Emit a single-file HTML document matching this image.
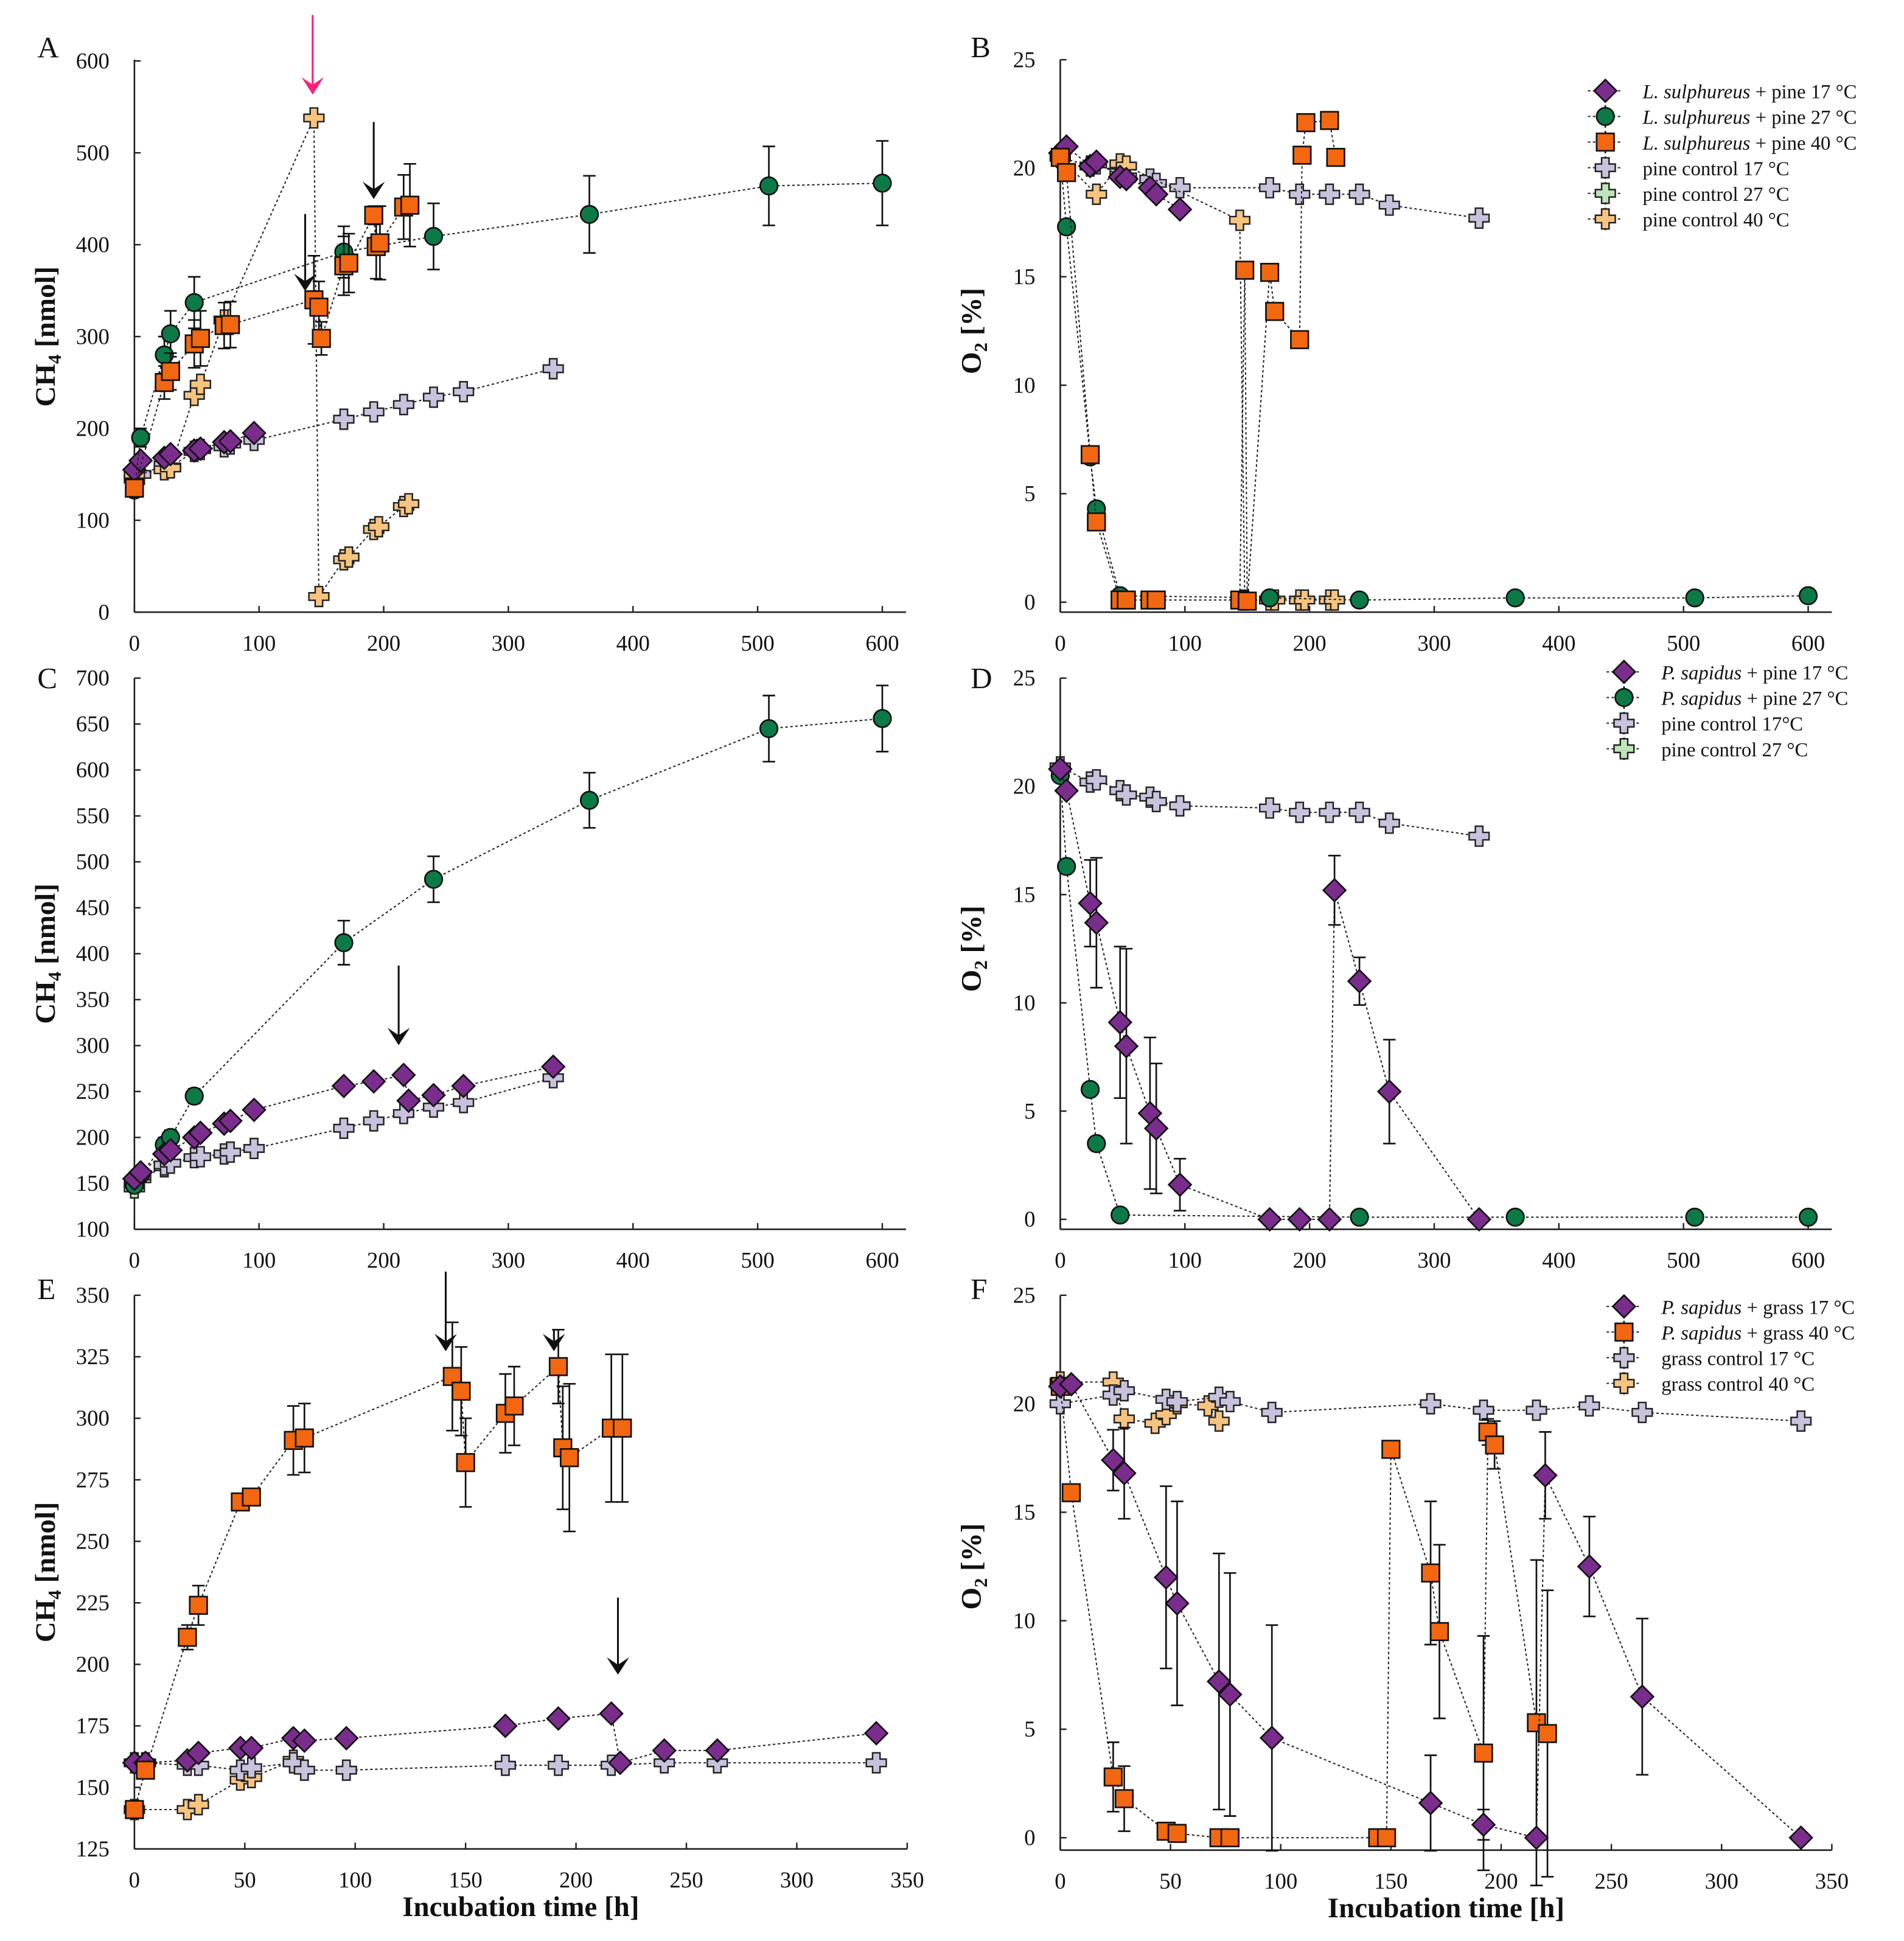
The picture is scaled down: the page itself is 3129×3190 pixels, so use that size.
<!DOCTYPE html>
<html><head><meta charset="utf-8"><style>
html,body{margin:0;padding:0;background:#fff}
svg{display:block}
text{font-family:"Liberation Serif",serif;fill:#111}
</style></head><body>
<svg id="fig" width="3129" height="3190" viewBox="0 0 1530 1560" preserveAspectRatio="none" xmlns="http://www.w3.org/2000/svg"></svg>
<script>
// ---------- DATA ----------
// Panel A (CH4 nmol)
const aPurpleT=[0,5,24,29,48,53,72,77,96];
const aPurpleY=[155,165,168,172,176,178,185,186,195];
const aGreenT=[0,5,24,29,48,168,240,365,509,600];
const aGreenY=[133,190,280,303,337,392,409,433,464,467];
const aGreenE=[0,10,20,25,28,28,36,42,43,46];
const aOrangeT=[0,24,29,48,53,72,77,144,148,150,168,172,192,194,197,216,221];
const aOrangeY=[135,250,262,292,298,312,313,340,332,298,377,380,432,398,402,441,443];
const aOrangeE=[0,18,20,26,30,25,25,48,28,18,32,32,10,35,40,35,45];
const aCtl17T=[0,5,24,29,48,53,72,77,96,168,192,216,240,264,336];
const aCtl17Y=[145,150,160,158,175,177,180,183,187,210,218,226,234,240,265];
const aCtl40T=[0,24,29,48,53,72,144,148,168,172,192,196,216,220];
const aCtl40Y=[150,155,157,236,248,318,538,17,57,60,90,93,115,118];
// Panel B (O2 %)
const bPurpleT=[0,5,24,29,48,53,72,77,96];
const bPurpleY=[20.7,21,20.1,20.3,19.6,19.5,19.1,18.8,18.1];
const bGreenT=[0,5,24,29,48,168,240,365,509,600];
const bGreenY=[20.5,17.3,6.7,4.3,0.3,0.2,0.1,0.2,0.2,0.3];
const bOrangeT=[0,5,24,29,48,53,72,77,144,148,150,168,172,192,194,197,216,221];
const bOrangeY=[20.5,19.8,6.8,3.7,0.1,0.1,0.1,0.1,0.1,15.3,0.05,15.2,13.4,12.1,20.6,22.1,22.2,20.5];
const bCtl17T=[0,24,29,48,53,72,77,96,168,192,216,240,264,336];
const bCtl17Y=[20.5,20.1,20.2,19.8,19.6,19.5,19.3,19.1,19.1,18.8,18.8,18.8,18.3,17.7];
const bCtl40T=[0,29,48,53,144,148,168,172,192,196,216,220];
const bCtl40Y=[20.5,18.8,20.2,20.1,17.6,0.1,0.1,0.1,0.1,0.1,0.1,0.1];
// Panel C
const cPurpleT=[0,5,24,29,48,53,72,77,96,168,192,216,220,240,264,336];
const cPurpleY=[155,162,182,186,200,205,215,218,230,256,261,268,240,246,256,277];
const cGreenT=[0,5,24,29,48,168,240,365,509,600];
const cGreenY=[148,160,192,200,245,412,481,567,645,656];
const cGreenE=[0,8,8,8,8,24,25,30,36,36];
const cCtl17T=[0,5,24,29,48,53,72,77,96,168,192,216,240,264,336];
const cCtl17Y=[150,158,170,172,178,179,182,184,188,210,218,226,233,238,265];
const cCtl27T=[0,5,24];
const cCtl27Y=[145,155,168];
// Panel D
const dPurpleT=[0,5,24,29,48,53,72,77,96,168,192,216,220,240,264,336];
const dPurpleY=[20.8,19.8,14.6,13.7,9.1,8.0,4.9,4.2,1.6,0,0,0,15.2,11,5.9,0];
const dPurpleE=[0,0,2,3,3.5,4.5,3.5,3,1.2,0,0,0,1.6,1.1,2.4,0];
const dGreenT=[0,5,24,29,48,240,365,509,600];
const dGreenY=[20.5,16.3,6.0,3.5,0.2,0.1,0.1,0.1,0.1];
const dCtl17T=[0,24,29,48,53,72,77,96,168,192,216,240,264,336];
const dCtl17Y=[20.9,20.2,20.3,19.8,19.6,19.5,19.3,19.1,19.0,18.8,18.8,18.8,18.3,17.7];
// Panel E
const eOrangeT=[0,5,24,29,48,53,72,77,144,148,150,168,172,192,194,197,216,221];
const eOrangeY=[141,157,211,224,266,268,291,292,317,311,282,302,305,321,288,284,296,296];
const eOrangeE=[0,0,5,8,3,3,14,14,22,18,18,16,16,15,25,30,30,30];
const ePurpleT=[0,5,24,29,48,53,72,77,96,168,192,216,220,240,264,336];
const ePurpleY=[160,160,161,164,166,166,170,169,170,175,178,180,160,165,165,172];
const eCtl17T=[0,5,24,29,48,53,72,77,96,168,192,216,240,264,336];
const eCtl17Y=[160,160,159,159,157,158,160,157,157,159,159,159,160,160,160];
const eCtl40T=[0,24,29,48,53,72];
const eCtl40Y=[141,141,143,153,154,161];
// Panel F
const fPurpleT=[0,5,24,29,48,53,72,77,96,168,192,216,220,240,264,336];
const fPurpleY=[20.8,20.9,17.4,16.8,12,10.8,7.2,6.6,4.6,1.6,0.6,0,16.7,12.5,6.5,0];
const fPurpleE=[0,0,1.4,2.1,4.2,4.7,5.9,5.6,5.2,2.2,0.7,0,2,2.3,3.6,0];
const fOrangeT=[0,5,24,29,48,53,72,77,144,148,150,168,172,192,194,197,216,221];
const fOrangeY=[20.8,15.9,2.8,1.8,0.3,0.2,0,0,0,0,17.9,12.2,9.5,3.9,18.7,18.1,5.3,4.8];
const fOrangeE=[0,0,1.6,1.5,0,0,0,0,0,0,0,3.3,4,5.4,0.6,1.1,7.5,6.6];
const fCtl17T=[0,24,29,48,53,72,77,96,168,192,216,240,264,336];
const fCtl17Y=[20,20.4,20.6,20.2,20.1,20.3,20.1,19.6,20,19.7,19.7,19.9,19.6,19.2];
const fCtl40T=[0,24,29,43,48,53,67,72];
const fCtl40Y=[21,21,19.3,19.1,19.5,20,19.9,19.2];

const xTicks600=[0,100,200,300,400,500,600];
const xTicks350=[0,50,100,150,200,250,300,350];
const yTicksA=[0,100,200,300,400,500,600];
const yTicksC=[100,150,200,250,300,350,400,450,500,550,600,650,700];
const yTicksE=[125,150,175,200,225,250,275,300,325,350];
const yTicksO=[0,5,10,15,20,25];

// ---------- DRAW ----------
const NS="http://www.w3.org/2000/svg";
const svg=document.getElementById('fig');
const COL={purple:'#7a2d8c',green:'#0b7a47',orange:'#f2670f',c17:'#c9c2dc',c27:'#bfe3b8',c40:'#f7c47f'};
function mk(tag,attrs,parent){const e=document.createElementNS(NS,tag);for(const k in attrs)e.setAttribute(k,attrs[k]);(parent||svg).appendChild(e);return e;}

function makeAxes(p){
  const g=mk('g',{});
  
  
  p.sx=v=>p.x0+(v-p.xmin)/(p.xmax-p.xmin)*(p.x1-p.x0);
  p.sy=v=>p.y0-(v-p.ymin)/(p.ymax-p.ymin)*(p.y0-p.y1);
  const ax=mk('g',{},g);
  
  
  mk('line',{x1:p.x0,y1:p.axisY,x2:p.xEnd,y2:p.axisY,stroke:'#222','stroke-width':1.3},ax);
  mk('line',{x1:p.x0,y1:p.axisY,x2:p.x0,y2:p.yTop,stroke:'#222','stroke-width':1.3},ax);
  p.xt.forEach(v=>{const x=p.sx(v);
    mk('line',{x1:x,y1:p.axisY,x2:x,y2:p.axisY-5,stroke:'#222','stroke-width':1.2},ax);
    const t=mk('text',{x:x,y:p.axisY+31,'font-size':18,'text-anchor':'middle'},ax);t.textContent=v;
    
    });
  p.yt.forEach(v=>{const y=p.sy(v);
    mk('line',{x1:p.x0,y1:y,x2:p.x0+5,y2:y,stroke:'#222','stroke-width':1.2},ax);
    const t=mk('text',{x:p.x0-20,y:y+6,'font-size':18,'text-anchor':'end'},ax);t.textContent=v;
    
    });
  const L=mk('text',{x:p.letterX,y:p.letterY,'font-size':24},g);L.textContent=p.letter;
  
  
  const yt=mk('text',{x:0,y:0,'font-size':23,'font-weight':'bold','text-anchor':'middle',transform:`translate(${p.x0-64},${(p.y1+p.y0)/2}) rotate(-90)`},g);
  yt.innerHTML=p.ylab;
  
  
  if(p.xlab){const xt=mk('text',{x:(p.x0+p.xEnd)/2,y:p.axisY+54,'font-size':23,'font-weight':'bold','text-anchor':'middle'},g);xt.textContent=p.xlab;
    
    }
  p.g=g;return p;
}
function marker(g,type,x,y,fill){
  if(type==='d')mk('polygon',{points:`${x},${y-9} ${x+9},${y} ${x},${y+9} ${x-9},${y}`,fill:fill,stroke:'#111','stroke-width':1.3},g);
  else if(type==='c')mk('circle',{cx:x,cy:y,r:7,fill:fill,stroke:'#111','stroke-width':1.3},g);
  else if(type==='s')mk('rect',{x:x-7,y:y-7,width:14,height:14,fill:fill,stroke:'#111','stroke-width':1.3},g);
  else {const a=3,b=8;mk('polygon',{points:`${x-a},${y-b} ${x+a},${y-b} ${x+a},${y-a} ${x+b},${y-a} ${x+b},${y+a} ${x+a},${y+a} ${x+a},${y+b} ${x-a},${y+b} ${x-a},${y+a} ${x-b},${y+a} ${x-b},${y-a} ${x-a},${y-a}`,fill:fill,stroke:'#222','stroke-width':1.2},g);}
}
function series(p,T,Y,E,type,fill,name){
  const g=mk('g',{},p.g);
  
  
  const pts=T.map((t,i)=>p.sx(t)+','+p.sy(Y[i])).join(' ');
  mk('polyline',{points:pts,fill:'none',stroke:'#222','stroke-width':1,'stroke-dasharray':'2,2'},g);
  if(E)T.forEach((t,i)=>{if(!E[i])return;const x=p.sx(t),ya=p.sy(Y[i]-E[i]),yb=p.sy(Y[i]+E[i]);
    mk('line',{x1:x,y1:ya,x2:x,y2:yb,stroke:'#111','stroke-width':1.3},g);
    mk('line',{x1:x-5,y1:ya,x2:x+5,y2:ya,stroke:'#111','stroke-width':1.3},g);
    mk('line',{x1:x-5,y1:yb,x2:x+5,y2:yb,stroke:'#111','stroke-width':1.3},g);});
  T.forEach((t,i)=>{const m=mk('g',{},g);
    
    
    marker(m,type,p.sx(t),p.sy(Y[i]),fill);});
}
function arrow(p,t,yFrom,yTo,color,name){
  const g=mk('g',{},p.g);
  
  
  const x=p.sx(t),y1=yFrom,y2=yTo;
  mk('line',{x1:x,y1:y1,x2:x,y2:y2-6,stroke:color,'stroke-width':1.5},g);
  mk('polygon',{points:`${x-9},${y2-14} ${x},${y2} ${x+9},${y2-14} ${x},${y2-8}`,fill:color},g);
}
function legend(x,y,items,name){
  const g=mk('g',{});
  
  
  items.forEach((it,i)=>{const yy=y+i*20.6;const e=mk('g',{},g);
    
    
    mk('line',{x1:x-14,y1:yy,x2:x+14,y2:yy,stroke:'#222','stroke-width':1,'stroke-dasharray':'2,2'},e);
    mk('line',{x1:x,y1:yy-9,x2:x,y2:yy+9,stroke:'#111','stroke-width':1.3},e);
    marker(e,it[0],x,yy,it[1]);
    const t=mk('text',{x:x+30,y:yy+6,'font-size':16},e);t.innerHTML=it[2];});
}

// Panel A
const A=makeAxes({name:'panel-a-ch4',letter:'A',letterX:30,letterY:46,x0:108,x1:709,xEnd:728,xmin:0,xmax:600,y0:492,y1:49,ymin:0,ymax:600,axisY:492,yTop:48,xt:xTicks600,yt:yTicksA,ylab:'CH<tspan font-size="15" dy="5">4</tspan><tspan dy="-5"> [nmol]</tspan>'});
series(A,aCtl17T,aCtl17Y,null,'x',COL.c17,'pine-control-17');
series(A,aCtl40T,aCtl40Y,null,'x',COL.c40,'pine-control-40');
series(A,aPurpleT,aPurpleY,null,'d',COL.purple,'l-sulphureus-17');
series(A,aGreenT,aGreenY,aGreenE,'c',COL.green,'l-sulphureus-27');
series(A,aOrangeT,aOrangeY,aOrangeE,'s',COL.orange,'l-sulphureus-40');
arrow(A,143,12,76,'#ff1f7a','arrow-pink');
arrow(A,137,172,234,'#111','arrow-a1');
arrow(A,192,98,160,'#111','arrow-a2');
// Panel B
const B=makeAxes({name:'panel-b-o2',letter:'B',letterX:780,letterY:46,x0:852,x1:1453,xEnd:1472,xmin:0,xmax:600,y0:484,y1:48,ymin:0,ymax:25,axisY:492,yTop:48,xt:xTicks600,yt:yTicksO,ylab:'O<tspan font-size="15" dy="5">2</tspan><tspan dy="-5"> [%]</tspan>'});
series(B,bCtl17T,bCtl17Y,null,'x',COL.c17,'pine-control-17');
series(B,bCtl40T,bCtl40Y,null,'x',COL.c40,'pine-control-40');
series(B,bPurpleT,bPurpleY,null,'d',COL.purple,'l-sulphureus-17');
series(B,bGreenT,bGreenY,null,'c',COL.green,'l-sulphureus-27');
series(B,bOrangeT,bOrangeY,null,'s',COL.orange,'l-sulphureus-40');
legend(1290,73,[['d',COL.purple,'<tspan font-style="italic">L. sulphureus</tspan> + pine 17 °C'],['c',COL.green,'<tspan font-style="italic">L. sulphureus</tspan> + pine 27 °C'],['s',COL.orange,'<tspan font-style="italic">L. sulphureus</tspan> + pine 40 °C'],['x',COL.c17,'pine control 17 °C'],['x',COL.c27,'pine control 27 °C'],['x',COL.c40,'pine control 40 °C']],'legend-b');
// Panel C
const C=makeAxes({name:'panel-c-ch4',letter:'C',letterX:30,letterY:553,x0:108,x1:709,xEnd:728,xmin:0,xmax:600,y0:988,y1:545,ymin:100,ymax:700,axisY:988,yTop:545,xt:xTicks600,yt:yTicksC,ylab:'CH<tspan font-size="15" dy="5">4</tspan><tspan dy="-5"> [nmol]</tspan>'});
series(C,cCtl27T,cCtl27Y,null,'x',COL.c27,'pine-control-27');
series(C,cCtl17T,cCtl17Y,null,'x',COL.c17,'pine-control-17');
series(C,cGreenT,cGreenY,cGreenE,'c',COL.green,'p-sapidus-27');
series(C,cPurpleT,cPurpleY,null,'d',COL.purple,'p-sapidus-17');
arrow(C,212,776,840,'#111','arrow-c');
// Panel D
const D=makeAxes({name:'panel-d-o2',letter:'D',letterX:780,letterY:553,x0:852,x1:1453,xEnd:1472,xmin:0,xmax:600,y0:980,y1:545,ymin:0,ymax:25,axisY:988,yTop:545,xt:xTicks600,yt:yTicksO,ylab:'O<tspan font-size="15" dy="5">2</tspan><tspan dy="-5"> [%]</tspan>'});
series(D,dCtl17T,dCtl17Y,null,'x',COL.c17,'pine-control-17');
series(D,dGreenT,dGreenY,null,'c',COL.green,'p-sapidus-27');
series(D,dPurpleT,dPurpleY,dPurpleE,'d',COL.purple,'p-sapidus-17');
legend(1305,540,[['d',COL.purple,'<tspan font-style="italic">P. sapidus</tspan> + pine 17 °C'],['c',COL.green,'<tspan font-style="italic">P. sapidus</tspan> + pine 27 °C'],['x',COL.c17,'pine control 17°C'],['x',COL.c27,'pine control 27 °C']],'legend-d');
// Panel E
const E=makeAxes({name:'panel-e-ch4',letter:'E',letterX:30,letterY:1044,x0:108,x1:729,xEnd:729,xmin:0,xmax:350,y0:1486,y1:1041,ymin:125,ymax:350,axisY:1486,yTop:1041,xt:xTicks350,yt:yTicksE,ylab:'CH<tspan font-size="15" dy="5">4</tspan><tspan dy="-5"> [nmol]</tspan>',xlab:'Incubation time [h]'});
series(E,eCtl40T,eCtl40Y,null,'x',COL.c40,'grass-control-40');
series(E,eCtl17T,eCtl17Y,null,'x',COL.c17,'grass-control-17');
series(E,ePurpleT,ePurpleY,null,'d',COL.purple,'p-sapidus-grass-17');
series(E,eOrangeT,eOrangeY,eOrangeE,'s',COL.orange,'p-sapidus-grass-40');
arrow(E,141,1022,1086,'#111','arrow-e1');
arrow(E,190,1068,1086,'#111','arrow-e2');
arrow(E,219,1284,1346,'#111','arrow-e3');
// Panel F
const F=makeAxes({name:'panel-f-o2',letter:'F',letterX:780,letterY:1044,x0:852,x1:1472,xEnd:1472,xmin:0,xmax:350,y0:1477,y1:1041,ymin:0,ymax:25,axisY:1487,yTop:1041,xt:xTicks350,yt:yTicksO,ylab:'O<tspan font-size="15" dy="5">2</tspan><tspan dy="-5"> [%]</tspan>',xlab:'Incubation time [h]'});
series(F,fCtl40T,fCtl40Y,null,'x',COL.c40,'grass-control-40');
series(F,fCtl17T,fCtl17Y,null,'x',COL.c17,'grass-control-17');
series(F,fOrangeT,fOrangeY,fOrangeE,'s',COL.orange,'p-sapidus-grass-40');
series(F,fPurpleT,fPurpleY,fPurpleE,'d',COL.purple,'p-sapidus-grass-17');
legend(1305,1050,[['d',COL.purple,'<tspan font-style="italic">P. sapidus</tspan> + grass 17 °C'],['s',COL.orange,'<tspan font-style="italic">P. sapidus</tspan> + grass 40 °C'],['x',COL.c17,'grass control 17 °C'],['x',COL.c40,'grass control 40 °C']],'legend-f');
</script>
</body></html>
